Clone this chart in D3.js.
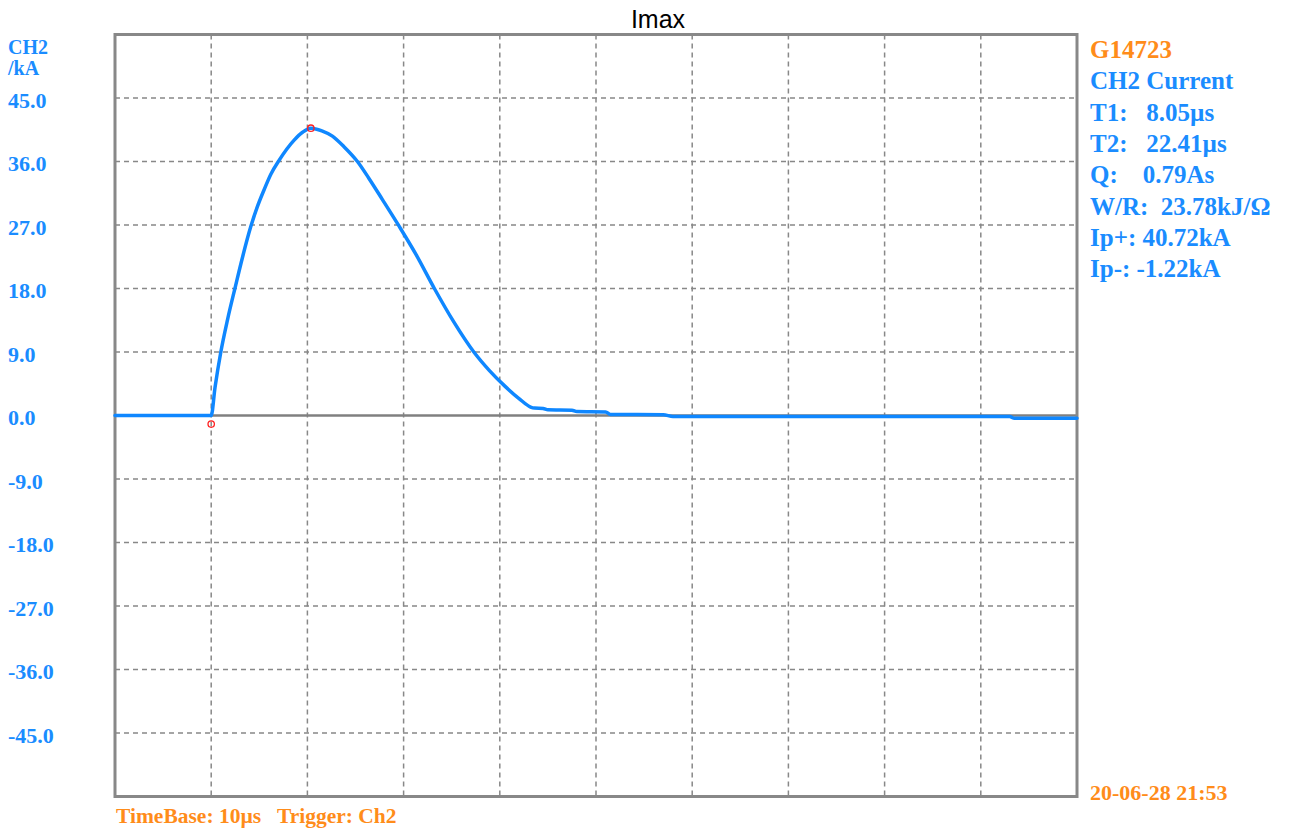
<!DOCTYPE html>
<html><head><meta charset="utf-8">
<script src="https://cdn.jsdelivr.net/npm/d3@7"></script>
<style>
html,body{margin:0;padding:0;background:#fff;}
svg{display:block;}
text{white-space:pre;}
</style></head>
<body>
<svg id="chart" width="1295" height="834"></svg>
<script>
// ---- data ----
const title = "Imax";
const timeUs = [-10, 0, 0.4, 1.0, 1.7, 2.5, 3.25, 4.1, 4.8, 5.5, 6.2, 7.07, 8.6, 9.5, 10.36, 11.5, 12.6, 13.8, 15.2, 16.4, 17.8, 19.5, 21.3, 23.2, 25.2, 27.3, 28.9, 30.5, 32.0, 33.2, 33.6, 34.5, 35, 37.5, 38, 41, 41.5, 47, 48, 83, 83.5, 90];
const currentKA = [0, 0, 4.0, 9.0, 13.6, 18.2, 22.4, 26.7, 29.6, 32.0, 34.2, 36.2, 39.0, 40.15, 40.72, 40.35, 39.6, 38.1, 36.0, 33.6, 30.6, 26.9, 22.8, 18.0, 13.3, 9.0, 6.4, 4.2, 2.4, 1.2, 1.05, 1.0, 0.8, 0.75, 0.55, 0.5, 0.15, 0.1, -0.15, -0.15, -0.4, -0.4];
const markerT = [0, 10.36];
const markerV = [-1.22, 40.72];
const yTicks = [45, 36, 27, 18, 9, 0, -9, -18, -27, -36, -45];
const xGrid = [0, 10, 20, 30, 40, 50, 60, 70, 80];
const yAxisTitle = ["CH2", "/kA"];
const infoHeader = "G14723";
const infoLines = ["CH2 Current", "T1:   8.05µs", "T2:   22.41µs", "Q:    0.79As", "W/R:  23.78kJ/Ω", "Ip+: 40.72kA", "Ip-: -1.22kA"];
const footerLeft = "TimeBase: 10µs   Trigger: Ch2";
const footerRight = "20-06-28 21:53";

// ---- layout ----
const L = 115, R = 1077, T = 34.5, B = 796.5;
const blue = "#1a8cff", orange = "#ff8c1a", grey = "#888";
const serif = "'Liberation Serif','DejaVu Serif',serif";

const svg = d3.select("#chart");
const x = d3.scaleLinear().domain([-10, 90]).range([L, R]);
const y = d3.scaleLinear().domain([-54, 54]).range([B, T]);

// title
svg.append("text").attr("x", 658).attr("y", 28).attr("text-anchor", "middle")
  .attr("font-family", "'Liberation Sans',Arial,sans-serif").attr("font-size", 25)
  .attr("fill", "#000").text(title);

// grid
const g = svg.append("g");
g.selectAll("line.hg").data(yTicks.filter(d => d !== 0)).join("line")
  .attr("x1", L).attr("x2", R).attr("y1", d => y(d)).attr("y2", d => y(d))
  .attr("stroke", grey).attr("stroke-width", 1.5).attr("stroke-dasharray", "5,4");
g.selectAll("line.vg").data(xGrid).join("line")
  .attr("y1", T).attr("y2", B).attr("x1", d => x(d)).attr("x2", d => x(d))
  .attr("stroke", grey).attr("stroke-width", 1.5).attr("stroke-dasharray", "5,4");
// zero line
g.append("line").attr("x1", L).attr("x2", R).attr("y1", y(0)).attr("y2", y(0))
  .attr("stroke", "#808080").attr("stroke-width", 2.5);

// frame
svg.append("rect").attr("x", L).attr("y", T).attr("width", R - L).attr("height", B - T)
  .attr("fill", "none").attr("stroke", grey).attr("stroke-width", 3);

// y tick labels
svg.selectAll("text.yt").data(yTicks).join("text")
  .attr("x", 8).attr("y", d => y(d) + 9.5)
  .attr("font-family", serif).attr("font-weight", "bold").attr("font-size", 22)
  .attr("fill", blue).text(d => d.toFixed(1));
svg.selectAll("text.yat").data(yAxisTitle).join("text")
  .attr("x", 8).attr("y", (d, i) => 54 + i * 21)
  .attr("font-family", serif).attr("font-weight", "bold").attr("font-size", 20)
  .attr("fill", blue).text(d => d);

// curve
const pts = timeUs.map((t, i) => [t, currentKA[i]]);
svg.append("path").datum(pts)
  .attr("d", d3.line().x(d => x(d[0])).y(d => y(d[1])).curve(d3.curveMonotoneX))
  .attr("fill", "none").attr("stroke", "#0f87ff").attr("stroke-width", 3.5)
  .attr("stroke-linejoin", "round").attr("stroke-linecap", "round");

// markers
svg.selectAll("circle.mk").data(markerT.map((t, i) => [t, markerV[i]])).join("circle")
  .attr("cx", d => x(d[0])).attr("cy", d => y(d[1])).attr("r", 3.2)
  .attr("fill", "none").attr("stroke", "#ff2020").attr("stroke-width", 1.3);

// info panel
svg.append("text").attr("x", 1090).attr("y", 58)
  .attr("font-family", serif).attr("font-weight", "bold").attr("font-size", 25)
  .attr("fill", orange).text(infoHeader);
svg.selectAll("text.info").data(infoLines).join("text")
  .attr("x", 1090).attr("y", (d, i) => 89.3 + i * 31.3)
  .attr("font-family", serif).attr("font-weight", "bold").attr("font-size", 25)
  .attr("fill", blue).text(d => d);

// footer
svg.append("text").attr("x", 116).attr("y", 823)
  .attr("font-family", serif).attr("font-weight", "bold").attr("font-size", 21.5)
  .attr("fill", orange).text(footerLeft);
svg.append("text").attr("x", 1090).attr("y", 800)
  .attr("font-family", serif).attr("font-weight", "bold").attr("font-size", 22)
  .attr("fill", orange).text(footerRight);
</script>
</body></html>
